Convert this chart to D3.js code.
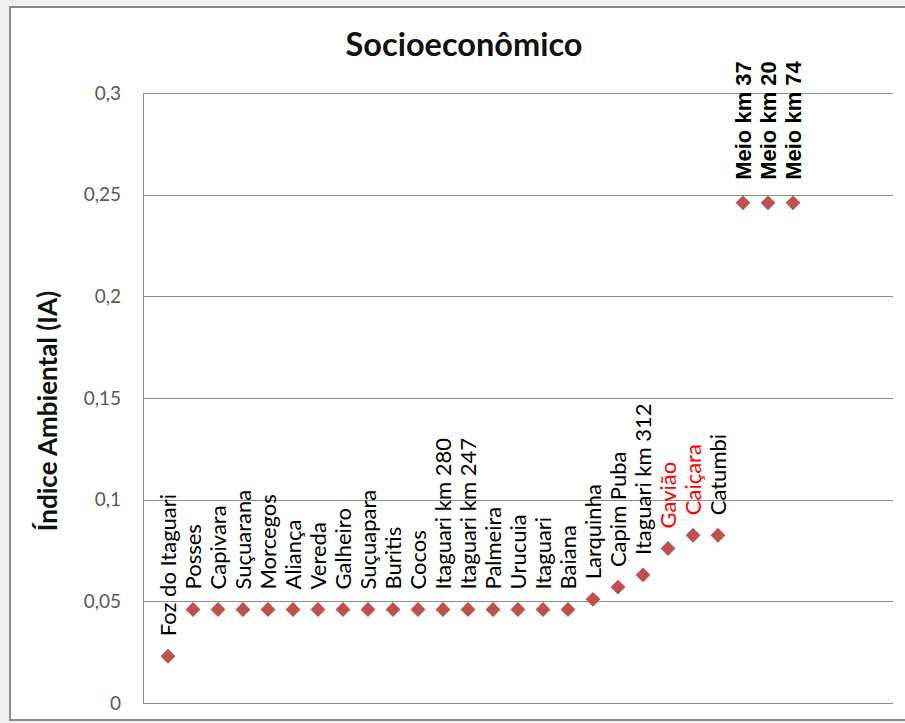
<!DOCTYPE html>
<html><head><meta charset="utf-8">
<script src="https://cdn.jsdelivr.net/npm/d3@7"></script>
<style>body{margin:0;background:#f0f0f0;}svg{display:block;}</style>
</head><body>
<svg id="chart" width="905" height="723"></svg>
<script>
const categories = ["Foz do Itaguari","Posses","Capivara","Suçuarana","Morcegos","Aliança","Vereda","Galheiro","Suçuapara","Buritis","Cocos","Itaguari km 280","Itaguari km 247","Palmeira","Urucuia","Itaguari","Baiana","Larquinha","Capim Puba","Itaguari km 312","Gavião","Caiçara","Catumbi","Meio km 37","Meio km 20","Meio km 74"];
const values = [0.023,0.046,0.046,0.046,0.046,0.046,0.046,0.046,0.046,0.046,0.046,0.046,0.046,0.046,0.046,0.046,0.046,0.051,0.057,0.063,0.076,0.0825,0.0825,0.246,0.246,0.246];
const redLabels = ["Gavião","Caiçara"];
const boldLabels = ["Meio km 37","Meio km 20","Meio km 74"];
const yTicks = [0,0.05,0.1,0.15,0.2,0.25,0.3];
const tickLabels = ["0","0,05","0,1","0,15","0,2","0,25","0,3"];
const title = "Socioeconômico";
const yTitle = "Índice Ambiental (IA)";

const svg = d3.select("#chart");
// outer chart frame
svg.append("rect").attr("x",10).attr("y",7).attr("width",905).attr("height",713)
  .attr("fill","#fff").attr("stroke","#8a8a8a").attr("stroke-width",2);

const plot = {left:143, right:893, top:93, bottom:703};
const x = d3.scaleLinear().domain([0,30]).range([plot.left, plot.right]);
const y = d3.scaleLinear().domain([0,0.3]).range([plot.bottom, plot.top]);

// gridlines
svg.append("g").selectAll("line").data(yTicks.slice(1)).join("line")
  .attr("x1",plot.left).attr("x2",plot.right)
  .attr("y1",d=>Math.round(y(d))+0.5).attr("y2",d=>Math.round(y(d))+0.5)
  .attr("stroke","#8c8c8c").attr("stroke-width",1);

// y axis
const yAxis = d3.axisLeft(y).tickValues(yTicks).tickSize(0).tickPadding(22)
  .tickFormat((d,i)=>tickLabels[i]);
const ga = svg.append("g").attr("transform",`translate(${plot.left},0)`).call(yAxis);
ga.select(".domain").attr("stroke","#8c8c8c");
ga.selectAll("text").attr("font-family","Lato, sans-serif").attr("font-size",19).attr("fill","#595959");

// bottom line
svg.append("line").attr("x1",plot.left).attr("x2",plot.right)
  .attr("y1",plot.bottom+0.5).attr("y2",plot.bottom+0.5).attr("stroke","#8c8c8c");

// title
svg.append("text").attr("x",464).attr("y",56).attr("text-anchor","middle")
  .attr("font-family","Lato, sans-serif").attr("font-weight","bold").attr("font-size",32.5)
  .attr("fill","#111").text(title);

// y title
svg.append("text").attr("transform","translate(57,411) rotate(-90)").attr("text-anchor","middle")
  .attr("font-family","Lato, sans-serif").attr("font-weight","bold").attr("font-size",26)
  .attr("fill","#111").text(yTitle);

const data = categories.map((c,i)=>({name:c, x:i+1, v:values[i]}));

// points
svg.append("g").selectAll("path").data(data).join("path")
  .attr("d", d3.symbol().type(d3.symbolSquare).size(110))
  .attr("transform", d=>`translate(${x(d.x)},${y(d.v)}) rotate(45)`)
  .attr("fill","#c0504d");

// labels
svg.append("g").selectAll("text").data(data).join("text")
  .attr("transform", d=>`translate(${x(d.x)},${y(d.v)-(boldLabels.includes(d.name)?23:20)}) rotate(-90)`)
  .attr("dy","0.36em")
  .attr("font-family", d=>boldLabels.includes(d.name)?"Liberation Sans, Arial, sans-serif":"Lato, sans-serif")
  .attr("font-weight", d=>boldLabels.includes(d.name)?"bold":"normal")
  .attr("font-size", d=>boldLabels.includes(d.name)?22:22)
  .attr("fill", d=>redLabels.includes(d.name)?"#ff0000":"#000")
  .text(d=>d.name);
</script>
</body></html>
